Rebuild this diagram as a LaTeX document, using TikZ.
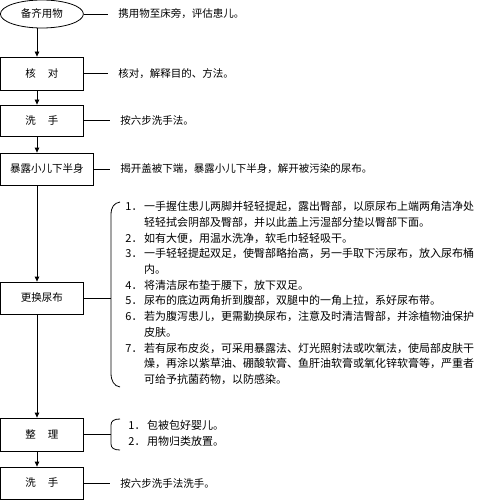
\documentclass[tikz,border=0pt]{standalone}
\usepackage{fontspec}
\setmainfont{Noto Sans CJK SC}
\usetikzlibrary{arrows.meta,shapes.geometric,positioning}

\begin{document}
\begin{tikzpicture}[x=1pt,y=-1pt,>={Triangle[length=5pt,width=4.5pt]},line width=0.8pt,
  box/.style={draw,rectangle,minimum width=83pt,minimum height=32pt,inner sep=0pt,font=\fontsize{10.5}{12}\selectfont},
  note/.style={anchor=west,inner xsep=10pt,inner ysep=0pt,font=\fontsize{10.5}{12}\selectfont},
  steps/.style={anchor=west,inner sep=0pt,font=\fontsize{11}{15.7}\selectfont}]
\useasboundingbox (0,0) rectangle (484,500);
\coordinate (ax) at (37,0); \coordinate (b1) at (111,298); \coordinate (b2) at (111,434.5);
\node[draw,ellipse,minimum width=83pt,minimum height=28pt,inner sep=0pt,font=\fontsize{10.5}{12}\selectfont] (prep) at (41.9,14) {备齐用物};
\node[box,minimum height=33pt] (hedui) at (41.9,73.5) {核\hspace{12pt}对};
\node[box,minimum height=31pt] (wash) at (41.9,120.5) {洗\hspace{12pt}手};
\node[box,minimum width=93pt] (expose) at (46.9,169) {暴露小儿下半身};
\node[box] (change) at (41.9,298) {更换尿布};
\node[box,minimum height=33pt] (tidy) at (41.9,434.5) {整\hspace{12pt}理};
\node[box] (washend) at (41.9,483) {洗\hspace{12pt}手};
\draw[->] (prep.south -| ax) -- (hedui.north -| ax); \draw[->] (hedui.south -| ax) -- (wash.north -| ax);
\draw[->] (wash.south -| ax) -- (expose.north -| ax); \draw[->] (expose.south -| ax) -- (change.north -| ax);
\draw[->] (change.south -| ax) -- (tidy.north -| ax); \draw[->] (tidy.south -| ax) -- (washend.north -| ax);
\node[note] (n0) at (108,14) {携用物至床旁，评估患儿。}; \draw (prep.east) -- (n0.west);
\node[note] (n1) at (108,73.5) {核对，解释目的、方法。}; \draw (hedui.east) -- (n1.west);
\node[note] (n2) at (110,120.5) {按六步洗手法。}; \draw (wash.east) -- (n2.west);
\node[note] (n3) at (110,169) {揭开盖被下端，暴露小儿下半身，解开被污染的尿布。}; \draw (expose.east) -- (n3.west);
\node[note] (n4) at (110,483) {按六步洗手法洗手。}; \draw (washend.east) -- (n4.west);
\draw (change.east) -- (b1); \draw (tidy.east) -- (b2);
\draw (120,202) .. controls (114,203) and (111,207) .. (111,215) -- (b1) -- (111,373) .. controls (111,381) and (114,386) .. (120,387);
\draw (120,419) .. controls (114,419) and (111,421) .. (111,425) -- (b2) -- (111,444) .. controls (111,448) and (114,450) .. (120,450);
\node[steps] (list1) at (125,294) {\begin{tabular}{@{}l@{\hspace{1.5pt}}l@{}}
1．&一手握住患儿两脚并轻轻提起，露出臀部，以原尿布上端两角洁净处\\
&轻轻拭会阴部及臀部，并以此盖上污湿部分垫以臀部下面。\\
2．&如有大便，用温水洗净，软毛巾轻轻吸干。\\
3．&一手轻轻提起双足，使臀部略抬高，另一手取下污尿布，放入尿布桶\\
&内。\\
4．&将清洁尿布垫于腰下，放下双足。\\
5．&尿布的底边两角折到腹部，双腿中的一角上拉，系好尿布带。\\
6．&若为腹泻患儿，更需勤换尿布，注意及时清洁臀部，并涂植物油保护\\
&皮肤。\\
7．&若有尿布皮炎，可采用暴露法、灯光照射法或吹氧法，使局部皮肤干\\
&燥，再涂以紫草油、硼酸软膏、鱼肝油软膏或氧化锌软膏等，严重者\\
&可给予抗菌药物，以防感染。
\end{tabular}};
\node[steps] (list2) at (128,434.5) {\begin{tabular}{@{}l@{\hspace{1.5pt}}l@{}}
1．&包被包好婴儿。\\
2．&用物归类放置。
\end{tabular}};
\end{tikzpicture}
\end{document}
